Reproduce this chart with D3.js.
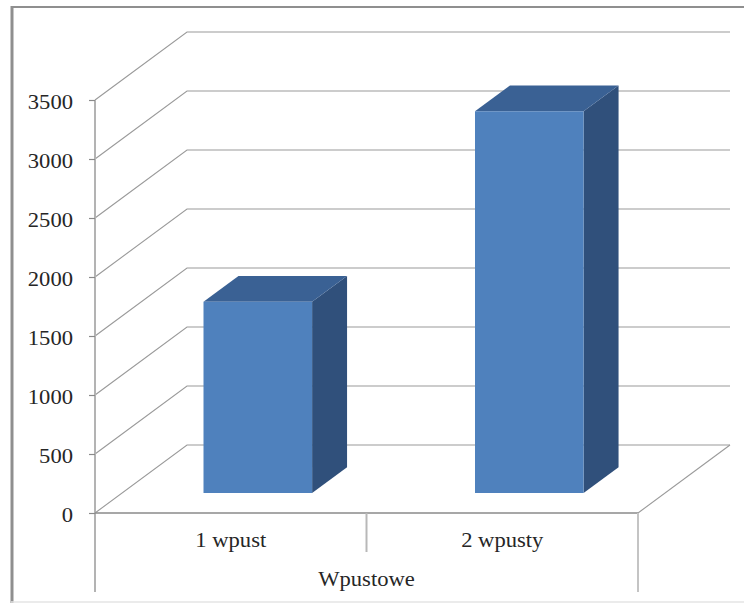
<!DOCTYPE html>
<html><head><meta charset="utf-8">
<script src="https://cdn.jsdelivr.net/npm/d3@7"></script>
<style>html,body{margin:0;padding:0;background:#fff;}svg{display:block;}</style>
</head><body>
<svg id="c" width="744" height="604"></svg>
<script>
const categories = ["1 wpust", "2 wpusty"];
const values = [1620, 3235];
const yTicks = [0, 500, 1000, 1500, 2000, 2500, 3000, 3500];
const axisTitle = "Wpustowe";

const svg = d3.select("#c");
const DX = 92, DY = -68;           // full depth offset
const D0 = 0.294, D1 = 0.674;      // bar depth range
const x = d3.scaleBand().domain(categories).range([95, 638]).padding(0);
const y = d3.scaleLinear().domain([0, 3500]).range([513, 100]);
const P = (px, v, d) => [px + d * DX, y(v) + d * DY];
const font = "'Liberation Serif','Times New Roman',serif";
const SX = 1.13;

// outer frame
svg.append("line").attr("x1",12).attr("y1",6).attr("x2",12).attr("y2",603).attr("stroke","#8f8f8f").attr("stroke-width",3);
svg.append("line").attr("x1",11).attr("y1",7).attr("x2",744).attr("y2",7).attr("stroke","#8f8f8f").attr("stroke-width",2);
svg.append("line").attr("x1",11).attr("y1",602).attr("x2",744).attr("y2",602).attr("stroke","#e4e4e4").attr("stroke-width",1.5);

const grid = svg.append("g").attr("stroke","#9a9a9a").attr("stroke-width",1.1).attr("fill","none");
const x0 = x.range()[0], x1 = x.range()[1];
yTicks.forEach(t => {
  const a = P(x0, t, 0), b = P(x0, t, 1), c = P(x1, t, 1);
  grid.append("path").attr("d", d3.line()([a, b, c]));
});
// floor right edge
grid.append("path").attr("d", d3.line()([P(x1,0,0), P(x1,0,1)]));

// bars
const bw = x.bandwidth() * 0.40;
const bars = svg.append("g");
categories.forEach((c, i) => {
  const v = values[i];
  const l = x(c) + (x.bandwidth() - bw) / 2, r = l + bw;
  const top = [P(l,v,D0), P(r,v,D0), P(r,v,D1), P(l,v,D1)];
  const side = [P(r,v,D0), P(r,0,D0), P(r,0,D1), P(r,v,D1)];
  const front = [P(l,v,D0), P(r,v,D0), P(r,0,D0), P(l,0,D0)];
  const poly = pts => "M" + pts.map(p => p.join(",")).join("L") + "Z";
  bars.append("path").attr("d", poly(side)).attr("fill", "#30507b");
  bars.append("path").attr("d", poly(top)).attr("fill", "#3a6194");
  bars.append("path").attr("d", poly(front)).attr("fill", "#4f81bd");
});

// y axis
svg.append("line").attr("x1",95).attr("y1",y(3500)).attr("x2",95).attr("y2",592).attr("stroke","#b3b3b3").attr("stroke-width",2);
const yAxis = d3.axisLeft(y).tickValues(yTicks).tickSize(6).tickFormat(d3.format("d"));
const ya = svg.append("g").attr("transform","translate(95,0)").call(yAxis);
ya.select(".domain").remove();
ya.selectAll(".tick line").attr("stroke","#8a8a8a").attr("stroke-width",1.2);
ya.selectAll(".tick text").remove();
ya.selectAll(".tick").append("g").attr("transform","translate(-22,8) scale(" + SX + ",1)")
  .append("text").attr("text-anchor","end").attr("font-family",font).attr("font-size",20).attr("fill","#262626")
  .text(d => d);

// category axis
svg.append("line").attr("x1",95).attr("y1",513).attr("x2",638).attr("y2",513).attr("stroke","#8a8a8a").attr("stroke-width",1.6);
svg.append("line").attr("x1",638).attr("y1",513).attr("x2",638).attr("y2",592).attr("stroke","#c4c4c4").attr("stroke-width",2);
svg.append("line").attr("x1",x(categories[1])).attr("y1",513).attr("x2",x(categories[1])).attr("y2",552).attr("stroke","#b8b8b8").attr("stroke-width",2);

categories.forEach(c => {
  svg.append("g").attr("transform","translate(" + (x(c) + x.bandwidth()/2) + ",547) scale(" + SX + ",1)")
    .append("text").attr("text-anchor","middle").attr("font-family",font).attr("font-size",20).attr("fill","#262626").text(c);
});
svg.append("g").attr("transform","translate(" + ((x0 + x1)/2) + ",586) scale(" + SX + ",1)")
  .append("text").attr("text-anchor","middle").attr("font-family",font).attr("font-size",20).attr("fill","#262626").text(axisTitle);
</script>
</body></html>
